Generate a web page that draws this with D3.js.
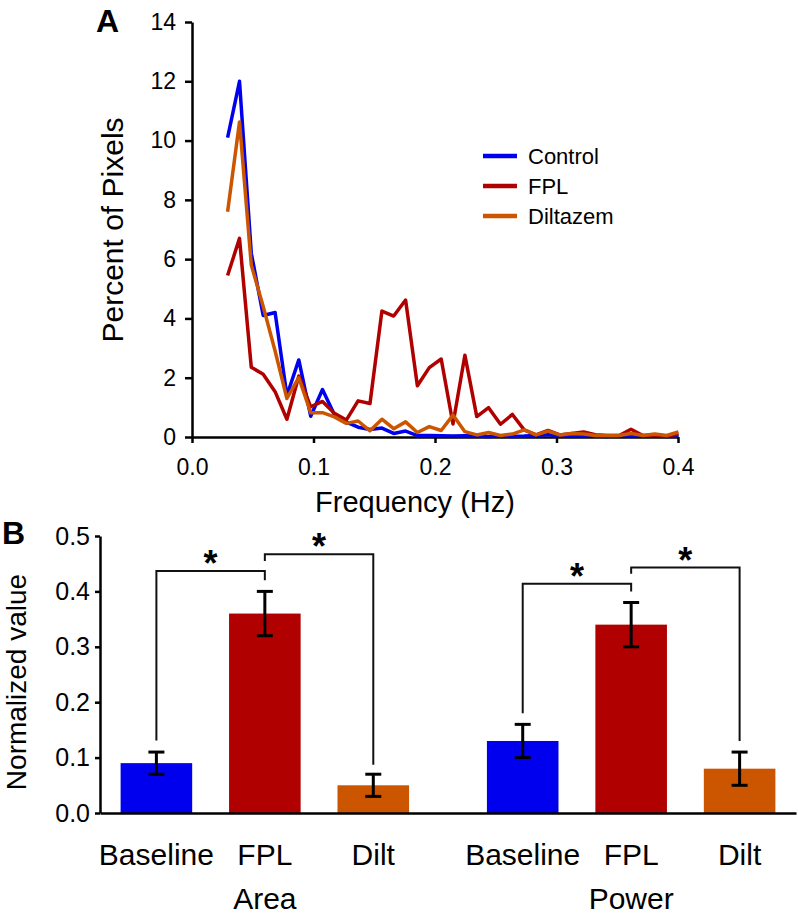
<!DOCTYPE html>
<html lang="en">
<head>
    <meta charset="UTF-8">
    <title>Frequency spectrum and normalized values</title>
    <script src="https://d3js.org/d3.v7.min.js"></script>
    <style>
        body { margin: 0; background: #fff; }
        svg { display: block; font-family: "Liberation Sans", Arial, Helvetica, sans-serif; }
        .axis path, .axis line { stroke: #000; }
        .axis text { fill: #000; font-family: "Liberation Sans", Arial, Helvetica, sans-serif; }
    </style>
</head>
<body>
    <svg width="798" height="917"></svg>

    <script>
        // ---- Panel A: percent of pixels vs frequency ----
        const freq = [0.0293, 0.0391, 0.0488, 0.0586, 0.0684, 0.0781, 0.0879, 0.0977, 0.1074, 0.1172,
                      0.1270, 0.1367, 0.1465, 0.1563, 0.1660, 0.1758, 0.1855, 0.1953, 0.2051, 0.2148,
                      0.2246, 0.2344, 0.2441, 0.2539, 0.2637, 0.2734, 0.2832, 0.2930, 0.3027, 0.3125,
                      0.3223, 0.3320, 0.3418, 0.3516, 0.3613, 0.3711, 0.3809, 0.3906, 0.4004];
        const control = [10.1, 12.0, 6.2, 4.1, 4.2, 1.4, 2.6, 0.7, 1.6, 0.75,
                         0.5, 0.33, 0.25, 0.3, 0.12, 0.2, 0.05, 0.05, 0.04, 0.03,
                         0.04, 0.03, 0.02, 0.04, 0.02, 0.03, 0.05, 0.08, 0.03, 0.04,
                         0.05, 0.03, 0.02, 0.04, 0.05, 0.03, 0.04, 0.02, 0.03];
        const fpl = [5.45, 6.7, 2.35, 2.12, 1.53, 0.6, 2.06, 1.02, 1.2, 0.8,
                     0.57, 1.22, 1.13, 4.25, 4.08, 4.62, 1.73, 2.34, 2.63, 0.44,
                     2.76, 0.69, 0.99, 0.43, 0.76, 0.24, 0.07, 0.22, 0.07, 0.12,
                     0.17, 0.08, 0.05, 0.05, 0.26, 0.05, 0.07, 0.03, 0.1];
        const diltazem = [7.6, 10.63, 5.8, 4.4, 2.9, 1.3, 2.0, 0.82, 0.82, 0.68,
                          0.46, 0.54, 0.21, 0.6, 0.28, 0.51, 0.15, 0.35, 0.22, 0.74,
                          0.18, 0.07, 0.15, 0.05, 0.1, 0.24, 0.07, 0.2, 0.07, 0.12,
                          0.1, 0.05, 0.05, 0.05, 0.12, 0.05, 0.1, 0.05, 0.17];
        const seriesNames = ["Control", "FPL", "Diltazem"];
        const freqTicks = [0, 0.1, 0.2, 0.3, 0.4];
        const pctTicks = [0, 2, 4, 6, 8, 10, 12, 14];

        // ---- Panel B: normalized value bars ----
        const groups = ["Area", "Power"];
        const conditions = ["Baseline", "FPL", "Dilt"];
        const areaMeans = [0.09, 0.36, 0.05];
        const areaErrors = [0.02, 0.04, 0.02];
        const powerMeans = [0.13, 0.34, 0.08];
        const powerErrors = [0.03, 0.04, 0.03];
        // significance brackets: [from, to, top, leftBottom, rightBottom]
        const areaBrackets = [[0, 1, 0.437, 0.131, 0.42], [1, 2, 0.467, 0.455, 0.087]];
        const powerBrackets = [[0, 1, 0.414, 0.18, 0.40], [1, 2, 0.443, 0.432, 0.13]];
        const normTicks = [0, 0.1, 0.2, 0.3, 0.4, 0.5];

        const colors = ["#0000ee", "#b00000", "#cc5500"];
        const svg = d3.select("svg");

        // ================= Panel A =================
        const xA = d3.scaleLinear().domain([0, 0.4]).range([192, 678]);
        const yA = d3.scaleLinear().domain([0, 14]).range([437, 22]);

        const axA = svg.append("g")
            .attr("class", "axis")
            .attr("transform", "translate(0,437)")
            .call(d3.axisBottom(xA).tickValues(freqTicks).tickFormat(d3.format(".1f"))
                .tickSize(6).tickSizeOuter(0).tickPadding(16));
        axA.selectAll("text").attr("font-size", 23);
        axA.selectAll("path, line").attr("stroke-width", 2.5);

        const ayA = svg.append("g")
            .attr("class", "axis")
            .attr("transform", "translate(192,0)")
            .call(d3.axisLeft(yA).tickValues(pctTicks).tickFormat(d3.format("d"))
                .tickSize(7).tickSizeOuter(0).tickPadding(9));
        ayA.selectAll("text").attr("font-size", 23);
        ayA.selectAll("path, line").attr("stroke-width", 2.5);

        const line = d3.line()
            .x((d, i) => xA(freq[i]))
            .y(d => yA(d));

        [control, fpl, diltazem].forEach((s, i) => {
            svg.append("path")
                .datum(s)
                .attr("fill", "none")
                .attr("stroke", colors[i])
                .attr("stroke-width", 3.5)
                .attr("stroke-linejoin", "round")
                .attr("d", line);
        });

        // legend
        const legend = svg.append("g").attr("transform", "translate(483,156)");
        seriesNames.forEach((name, i) => {
            legend.append("line")
                .attr("x1", 0).attr("x2", 34)
                .attr("y1", i * 30).attr("y2", i * 30)
                .attr("stroke", colors[i]).attr("stroke-width", 4.5);
            legend.append("text")
                .attr("x", 45).attr("y", i * 30).attr("dy", "0.36em")
                .attr("font-size", 22)
                .text(name);
        });

        svg.append("text")
            .attr("transform", "translate(123,230) rotate(-90)")
            .attr("text-anchor", "middle")
            .attr("font-size", 30)
            .text("Percent of Pixels");

        svg.append("text")
            .attr("x", 415).attr("y", 512)
            .attr("text-anchor", "middle")
            .attr("font-size", 29)
            .text("Frequency (Hz)");

        svg.append("text")
            .attr("x", 96).attr("y", 32)
            .attr("font-size", 32).attr("font-weight", "bold")
            .text("A");

        // ================= Panel B =================
        const x0 = d3.scaleBand().domain(groups).range([100, 796]).paddingInner(0.1).paddingOuter(0);
        const x1 = d3.scaleBand().domain(conditions).range([0, x0.bandwidth()])
            .paddingInner(0.34).paddingOuter(0.19);
        const yB = d3.scaleLinear().domain([0, 0.5]).range([813, 536]);

        const barData = [
            { group: "Area", means: areaMeans, errs: areaErrors, brackets: areaBrackets },
            { group: "Power", means: powerMeans, errs: powerErrors, brackets: powerBrackets }
        ];

        barData.forEach(g => {
            const gx = x0(g.group);
            const cx = c => gx + x1(c) + x1.bandwidth() / 2;

            conditions.forEach((c, i) => {
                svg.append("rect")
                    .attr("x", gx + x1(c))
                    .attr("y", yB(g.means[i]))
                    .attr("width", x1.bandwidth())
                    .attr("height", yB(0) - yB(g.means[i]))
                    .attr("fill", colors[i]);

                // error bar
                const hi = yB(g.means[i] + g.errs[i]), lo = yB(g.means[i] - g.errs[i]);
                const eb = svg.append("g").attr("stroke", "#000").attr("stroke-width", 3);
                eb.append("line").attr("x1", cx(c)).attr("x2", cx(c)).attr("y1", hi).attr("y2", lo);
                eb.append("line").attr("x1", cx(c) - 8).attr("x2", cx(c) + 8).attr("y1", hi).attr("y2", hi);
                eb.append("line").attr("x1", cx(c) - 8).attr("x2", cx(c) + 8).attr("y1", lo).attr("y2", lo);

                svg.append("text")
                    .attr("x", cx(c)).attr("y", 865)
                    .attr("text-anchor", "middle")
                    .attr("font-size", 30)
                    .text(c);
            });

            g.brackets.forEach(b => {
                const xa = cx(conditions[b[0]]), xb = cx(conditions[b[1]]);
                svg.append("path")
                    .attr("fill", "none")
                    .attr("stroke", "#111")
                    .attr("stroke-width", 2)
                    .attr("d", `M${xa},${yB(b[3])}V${yB(b[2])}H${xb}V${yB(b[4])}`);
                svg.append("text")
                    .attr("x", (xa + xb) / 2).attr("y", yB(b[2]) + 5)
                    .attr("text-anchor", "middle")
                    .attr("font-size", 36).attr("font-weight", "bold")
                    .text("*");
            });

            svg.append("text")
                .attr("x", gx + x0.bandwidth() / 2).attr("y", 909)
                .attr("text-anchor", "middle")
                .attr("font-size", 30)
                .text(g.group);
        });

        const axB = svg.append("g")
            .attr("class", "axis")
            .attr("transform", "translate(0,813)")
            .call(d3.axisBottom(x0).tickSize(0).tickFormat(""));
        axB.selectAll("path").attr("stroke-width", 2.5);

        const ayB = svg.append("g")
            .attr("class", "axis")
            .attr("transform", "translate(100,0)")
            .call(d3.axisLeft(yB).tickValues(normTicks).tickFormat(d3.format(".1f"))
                .tickSize(5).tickSizeOuter(0).tickPadding(5));
        ayB.selectAll("text").attr("font-size", 25);
        ayB.selectAll("path, line").attr("stroke-width", 2.5);

        svg.append("text")
            .attr("transform", "translate(26,682) rotate(-90)")
            .attr("text-anchor", "middle")
            .attr("font-size", 28)
            .text("Normalized value");

        svg.append("text")
            .attr("x", 2).attr("y", 544)
            .attr("font-size", 32).attr("font-weight", "bold")
            .text("B");
    </script>
</body>
</html>
